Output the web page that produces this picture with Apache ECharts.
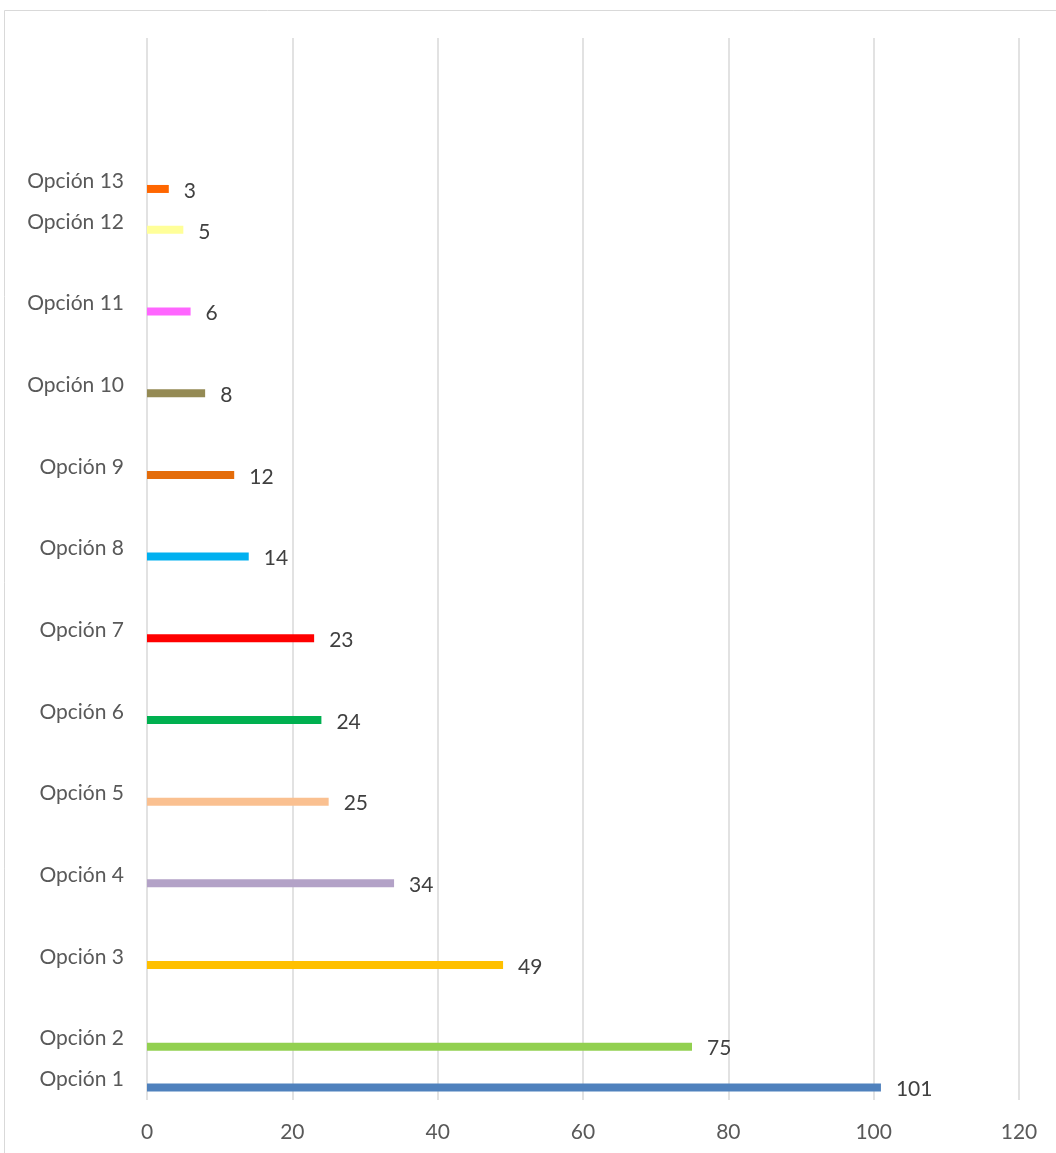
<!DOCTYPE html>
<html>
<head>
<meta charset="utf-8">
<script src="https://cdn.jsdelivr.net/npm/echarts@6/dist/echarts.min.js"></script>
<style>html,body{margin:0;padding:0;background:#fff;}#c{width:1056px;height:1153px;}</style>
</head>
<body>
<div id="c"></div>
<script>
const categories = ['Opción 1','Opción 2','Opción 3','Opción 4','Opción 5','Opción 6','Opción 7','Opción 8','Opción 9','Opción 10','Opción 11','Opción 12','Opción 13'];
const values = [101, 75, 49, 34, 25, 24, 23, 14, 12, 8, 6, 5, 3];
const slots = [0, 1, 3, 5, 7, 9, 11, 13, 15, 17, 19, 21, 22];
const colors = ['#4F81BD','#92D050','#FFC000','#B3A2C7','#FAC090','#00B050','#FF0000','#00B0F0','#E46C0A','#948A54','#FF66FF','#FFFF99','#FF6600'];
const slotCount = 26;
const xTicks = [0, 20, 40, 60, 80, 100, 120];

const yCats = new Array(slotCount).fill('');
const barData = new Array(slotCount).fill('-');
slots.forEach((s, i) => {
  yCats[s] = categories[i];
  barData[s] = { value: values[i], itemStyle: { color: colors[i] } };
});

const font = 'Lato, "Open Sans", sans-serif';
const chart = echarts.init(document.getElementById('c'));
chart.setOption({
  animation: false,
  backgroundColor: '#fff',
  graphic: [{
    type: 'rect', shape: { x: 4.5, y: 10.5, width: 1200, height: 1300 },
    style: { fill: 'none', stroke: '#d9d9d9', lineWidth: 1 }, silent: true
  }],
  grid: { left: 147, right: 37, top: 38, bottom: 53 },
  xAxis: {
    type: 'value', min: xTicks[0], max: xTicks[xTicks.length - 1], interval: 20,
    axisLine: { show: false }, axisTick: { show: false },
    splitLine: { show: true, lineStyle: { color: '#d9d9d9', width: 1.5 } },
    axisLabel: { color: '#595959', fontSize: 21, fontFamily: font, margin: 22 }
  },
  yAxis: {
    type: 'category', data: yCats,
    axisLine: { show: false }, axisTick: { show: false }, splitLine: { show: false },
    axisLabel: { interval: 0, color: '#595959', fontSize: 21, fontFamily: font, margin: 23 }
  },
  series: [
    { type: 'bar', data: [], barWidth: 8, barGap: '100%', silent: true },
    {
      type: 'bar', data: barData, barWidth: 8, barGap: '100%',
      label: { show: true, position: 'right', distance: 15, color: '#404040', fontSize: 21, fontFamily: font, offset: [0, 2] }
    }
  ]
});
</script>
</body>
</html>
